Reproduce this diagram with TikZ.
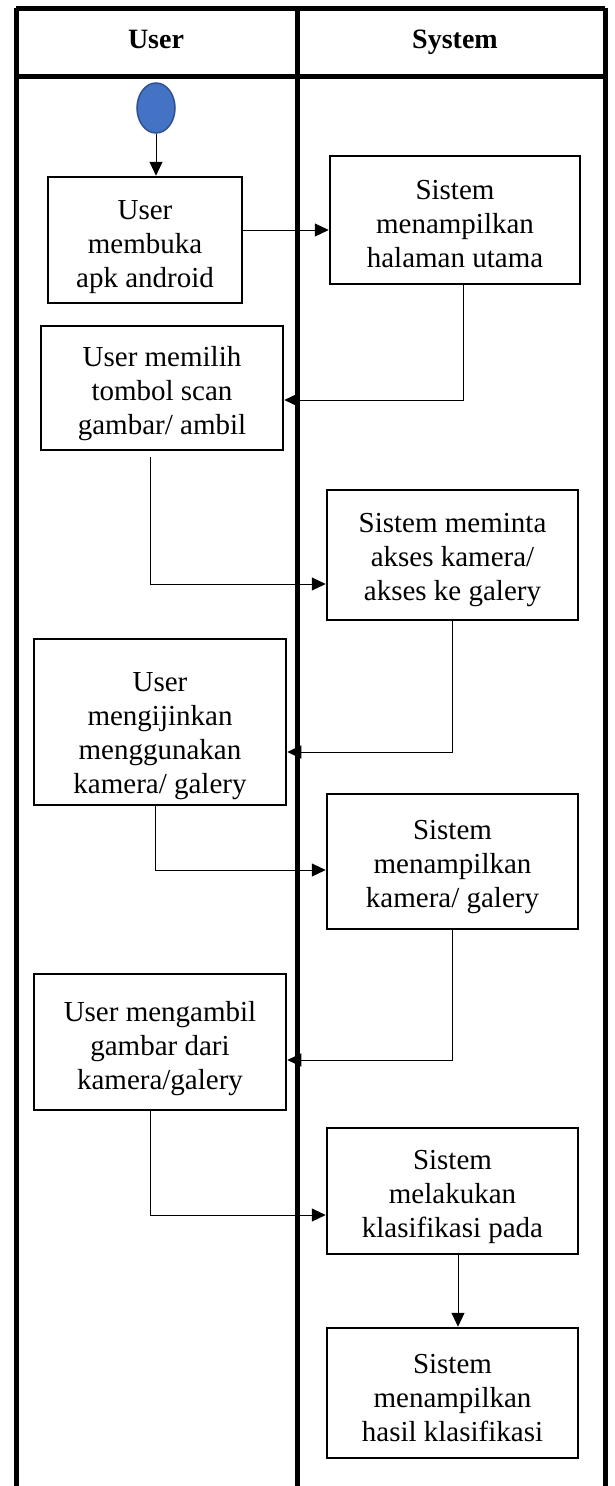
\documentclass[tikz,border=0pt]{standalone}
\usepackage{fontspec}
\setmainfont{Liberation Serif}
\usetikzlibrary{arrows.meta,shapes.geometric}
\definecolor{startfill}{HTML}{4472C4}
\definecolor{startdraw}{HTML}{2F528F}
\begin{document}
\begin{tikzpicture}[x=1pt,y=-1pt,
  lane/.style={line width=5pt},
  head/.style={font=\fontsize{28}{32}\selectfont\bfseries, inner sep=0pt},
  actbox/.style={draw, line width=2.5pt, inner sep=0pt},
  boxtext/.style={align=center, inner sep=0pt, font=\fontsize{29}{34}\selectfont},
  conn/.style={line width=1pt, -{Triangle[length=14pt,width=13pt]}},
  start/.style={ellipse, draw=startdraw, fill=startfill, line width=1.5pt,
    minimum width=38pt, minimum height=50pt, inner sep=0pt}]
\useasboundingbox (0,0) rectangle (615,1486);
% swimlane frame
\draw[lane] (16,8) -- (605,8);
\draw[lane] (16,76) -- (605,76);
\draw[lane] (16,8) -- (16,1486);
\draw[lane] (297,8) -- (297,1486);
\draw[lane] (605,8) -- (605,1486);
\node[head] (hu) at (156,39) {User};
\node[head] (hs) at (455,42) {System};
% nodes
\node[start] (s) at (156,108) {};
\node[actbox, minimum width=194pt, minimum height=126pt,
  label={[boxtext, yshift=-7pt]center:User\\membuka\\apk android}] (b1) at (145,240) {};
\node[actbox, minimum width=250pt, minimum height=128pt,
  label={[boxtext, yshift=-4pt]center:Sistem\\menampilkan\\halaman utama}] (b2) at (455,220) {};
\node[actbox, minimum width=242pt, minimum height=124pt,
  label={[boxtext, yshift=-6pt]center:User memilih\\tombol scan\\gambar/ ambil}] (b3) at (162,388) {};
\node[actbox, minimum width=251pt, minimum height=130pt,
  label={[boxtext, yshift=-5pt]center:Sistem meminta\\akses kamera/\\akses ke galery}] (b4) at (452.5,555) {};
\node[actbox, minimum width=252pt, minimum height=166pt,
  label={[boxtext, yshift=-14pt]center:User\\mengijinkan\\menggunakan\\kamera/ galery}] (b5) at (160,722) {};
\node[actbox, minimum width=251pt, minimum height=135pt,
  label={[boxtext, yshift=-6pt]center:Sistem\\menampilkan\\kamera/ galery}] (b6) at (452.5,861.5) {};
\node[actbox, minimum width=252pt, minimum height=136pt,
  label={[boxtext, yshift=-7pt]center:User mengambil\\gambar dari\\kamera/galery}] (b7) at (160,1042) {};
\node[actbox, minimum width=251pt, minimum height=126pt,
  label={[boxtext, yshift=-6pt]center:Sistem\\melakukan\\klasifikasi pada}] (b8) at (452.5,1191) {};
\node[actbox, minimum width=251pt, minimum height=130pt,
  label={[boxtext, yshift=-5pt]center:Sistem\\menampilkan\\hasil klasifikasi}] (b9) at (452.5,1393) {};
% connectors
\draw[conn] (s.south) -- (s.south |- b1.north);
\draw[conn] ([yshift=10pt]b1.east) -- ([yshift=10pt]b1.east -| b2.west);
\draw[conn] ([xshift=8pt]b2.south) |- ([yshift=-12pt]b3.east);
\draw[conn] ([xshift=-12pt,yshift=-6pt]b3.south) |- ([yshift=-29pt]b4.west);
\draw[conn] (b4.south) |- ([yshift=-30pt]b5.east);
\draw[conn] ([xshift=-5pt]b5.south) |- ([yshift=-8.5pt]b6.west);
\draw[conn] (b6.south) |- ([yshift=-18pt]b7.east);
\draw[conn] ([xshift=-10pt]b7.south) |- ([yshift=-24pt]b8.west);
\draw[conn] ([xshift=5.5pt]b8.south) -- ([xshift=5.5pt]b9.north);
\end{tikzpicture}
\end{document}
